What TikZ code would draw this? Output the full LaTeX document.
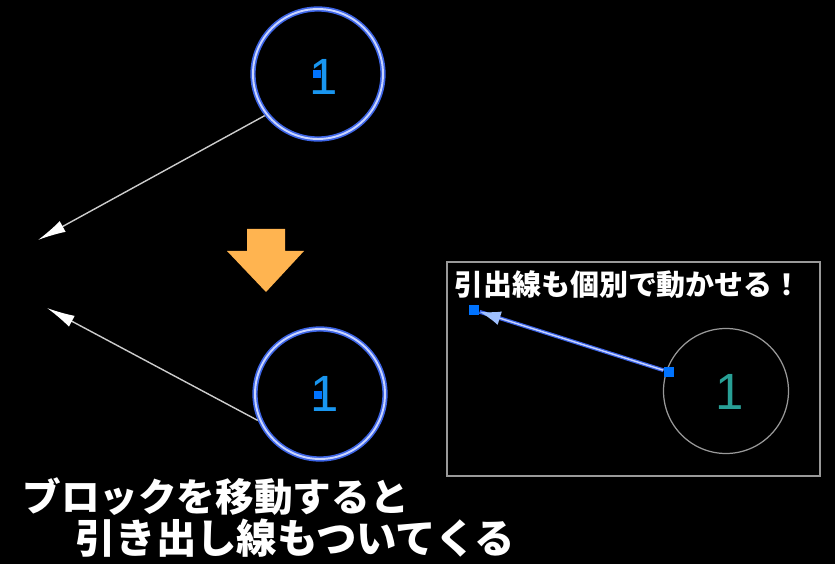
\documentclass[tikz,border=0pt]{standalone}
\usepackage{fontspec}
\usepackage{tikz}
\usetikzlibrary{arrows.meta,positioning}
\newfontfamily\jpfont{Noto Sans CJK JP}
\newfontfamily\numfont{Liberation Sans}
\definecolor{glowblue}{RGB}{60,100,230}
\definecolor{ringlight}{RGB}{200,212,255}
\definecolor{numblue}{RGB}{25,150,240}
\definecolor{gripblue}{RGB}{0,115,255}
\definecolor{movearrow}{RGB}{255,180,80}
\definecolor{numteal}{RGB}{40,160,150}

\begin{document}
\begin{tikzpicture}
  [x=0.02cm, y=-0.02cm,
  ring/.style={circle, minimum size=130*0.02cm, draw=glowblue, line width=3pt,
    postaction={draw=ringlight, line width=1.1pt}},
  plainring/.style={circle, minimum size=125*0.02cm, draw=gray!80, line width=0.7pt},
  grip/.style={rectangle, fill=gripblue, inner sep=0pt, minimum size=6pt},
  digit/.style={font=\numfont\fontsize{29}{29}\selectfont, inner sep=0pt},
  leader/.style={draw=gray!40!white, line width=0.8pt,
    -{Latex[length=16pt, width=7pt, fill=white, color=white]}},
  bigtext/.style={text=white, font=\jpfont\bfseries\fontsize{22}{26}\selectfont, inner sep=0pt, anchor=west},
  boxtext/.style={text=white, font=\jpfont\bfseries\fontsize{16.5}{19}\selectfont, inner sep=0pt}]
  \fill[black] (0,0) rectangle (835,564);
  \useasboundingbox (0,0) rectangle (835,564);

  % before moving
  \node[ring] (ringtop) at (318,74) {};
  \node[digit, text=numblue] (numtop) at (324,77) {1};
  \node[grip, minimum size=5pt] (griptop) at (317,74) {};
  \coordinate (endtop) at (38,240);
  \draw[leader] (ringtop.218) -- (endtop);

  % move arrow
  \fill[movearrow] (247,229) -- (285,229) -- (285,251) -- (304,251) -- (266,292)
    -- (227,251) -- (247,251) -- cycle;

  % after moving
  \node[ring] (ringbot) at (320,394) {};
  \node[digit, text=numblue] (numbot) at (325,394) {1};
  \node[grip, minimum size=5pt] (gripbot) at (318,395) {};
  \coordinate (endbot) at (47,308);
  \draw[leader] (ringbot.203) -- (endbot);

  % detail box
  \draw[gray!80, line width=0.7pt] (447,262) rectangle (820,476);
  \node[boxtext] (boxlabel) at (628,285) {引出線も個別で動かせる！};
  \node[plainring] (ringbox) at (726,391) {};
  \node[digit, text=numteal] (numbox) at (730,392) {1};
  \node[grip] (gripstart) at (669,372) {};
  \node[grip] (gripend) at (474,310) {};
  \draw[glowblue, line width=2.2pt] (gripstart) -- (gripend);
  \draw[ringlight, line width=0.8pt,
    -{Latex[length=12pt, width=8pt, fill=ringlight!80!gripblue, color=ringlight!80!gripblue]}]
    (gripstart) -- (gripend);

  % caption
  \node[bigtext] (capone) at (22,497) {ブロックを移動すると};
  \node[bigtext, font=\jpfont\bfseries\fontsize{23}{26}\selectfont] (captwo) at (75,538) {引き出し線もついてくる};
\end{tikzpicture}
\end{document}
